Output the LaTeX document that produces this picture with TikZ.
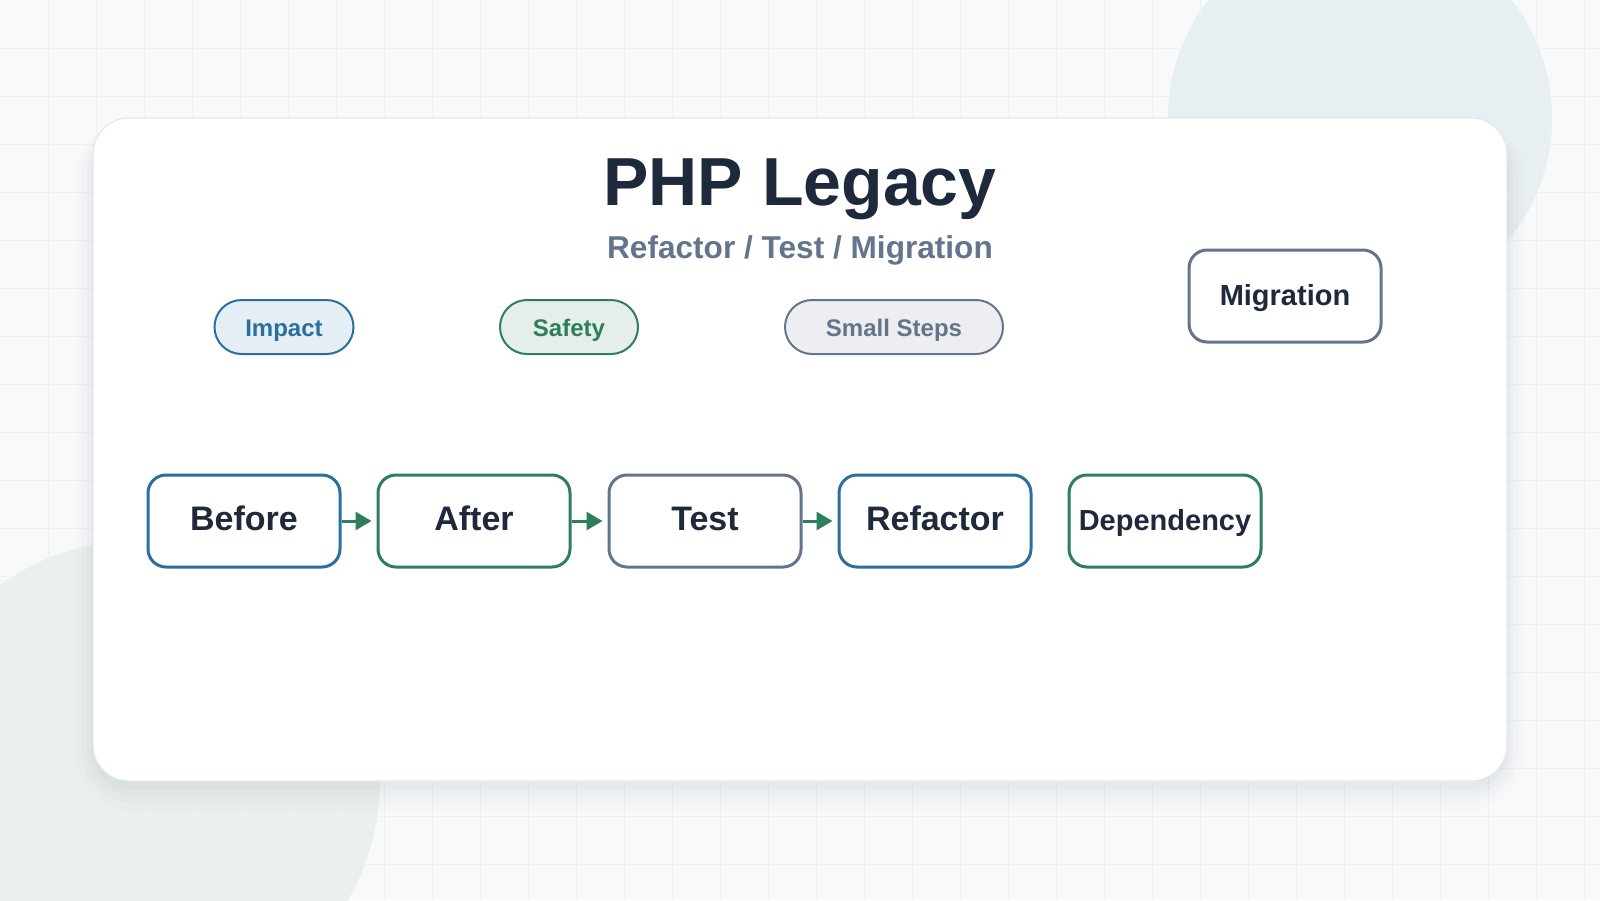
\documentclass[tikz,border=0pt]{standalone}
\usepackage{fontspec}
\setmainfont{Liberation Sans}
\usepackage{tikz}
\usetikzlibrary{arrows.meta, positioning}
\definecolor{ink}{HTML}{1E293B}
\definecolor{slate}{HTML}{64748B}
\definecolor{blueline}{HTML}{2A6F9E}
\definecolor{greenline}{HTML}{2E7D5B}
\definecolor{bluefill}{HTML}{E6EEF5}
\definecolor{greenfill}{HTML}{E5EFEA}
\definecolor{slatefill}{HTML}{ECEEF2}
\definecolor{paper}{HTML}{F7F9FB}
\definecolor{gridline}{HTML}{EDF1F4}
\definecolor{blobblue}{HTML}{E8EFF3}
\definecolor{blobgreen}{HTML}{E9F0EE}
\definecolor{cardline}{HTML}{E2E8F0}

\begin{document}
\begin{tikzpicture}[x=0.5pt, y=-0.5pt,
    box/.style={draw, line width=1.5pt, rounded corners=9pt, fill=white, text=ink,
        minimum width=96pt, minimum height=46pt, inner sep=0pt,
        text height=9pt, text depth=0pt,
        font=\bfseries\fontsize{17}{20}\selectfont},
    smallbox/.style={box, font=\bfseries\fontsize{14.5}{17}\selectfont},
    pill/.style={draw, line width=1pt, rounded corners=13.5pt, minimum height=27pt,
        inner sep=0pt, text height=9.5pt, text depth=0pt,
        font=\bfseries\fontsize{12}{14}\selectfont},
    flow/.style={-{Triangle[length=8pt,width=9pt]}, line width=1.5pt, greenline, shorten >=2.5pt}]
    \useasboundingbox (0,0) rectangle (1600,900);
    \fill[paper] (0,0) rectangle (1600,900); %背景
    \fill[blobblue] (1360,118) circle[radius=192];
    \fill[blobgreen] (140,780) circle[radius=240];
    \foreach \gx in {48,96,...,1584} \draw[gridline, line width=0.5pt] (\gx,0) -- (\gx,900);
    \foreach \gy in {48,96,...,864} \draw[gridline, line width=0.5pt] (0,\gy) -- (1600,\gy);
    % card shadow
    \fill[ink, opacity=0.012, rounded corners=30pt] (75,120) rectangle (1525,811);
    \fill[ink, opacity=0.015, rounded corners=26pt] (82,124) rectangle (1518,803);
    \fill[ink, opacity=0.02, rounded corners=22pt] (87,127) rectangle (1513,795);
    \fill[ink, opacity=0.025, rounded corners=20pt] (91,129) rectangle (1509,789);
    \draw[cardline, fill=white, line width=0.6pt, rounded corners=18pt] (93,118) rectangle (1507,781); %カード
    % title
    \node[anchor=base, text=ink, font=\bfseries\fontsize{34}{40}\selectfont] (title) at (800,205) {PHP Legacy};
    \node[anchor=base, text=slate, font=\bfseries\fontsize{15.8}{19}\selectfont] (subtitle) at (800,258) {Refactor / Test / Migration};
    % tags
    \node[pill, draw=blueline, fill=bluefill, text=blueline, minimum width=69.5pt] (impact) at (284,327) {Impact};
    \node[pill, draw=greenline, fill=greenfill, text=greenline, minimum width=69pt] (safety) at (569,327) {Safety};
    \node[pill, draw=slate, fill=slatefill, text=slate, minimum width=109pt] (steps) at (894,327) {Small Steps};
    % flow
    \node[box, draw=blueline] (before) at (244,521) {Before};
    \node[box, draw=greenline] (after) at (474,521) {After};
    \node[box, draw=slate] (test) at (705,521) {Test};
    \node[box, draw=blueline] (refactor) at (935,521) {Refactor};
    \node[smallbox, draw=greenline] (dependency) at (1165,521) {Dependency};
    \node[smallbox, draw=slate] (migration) at (1285,296) {Migration};
    \draw[flow] (before) -- (after);
    \draw[flow] (after) -- (test);
    \draw[flow] (test) -- (refactor);
\end{tikzpicture}
\end{document}
